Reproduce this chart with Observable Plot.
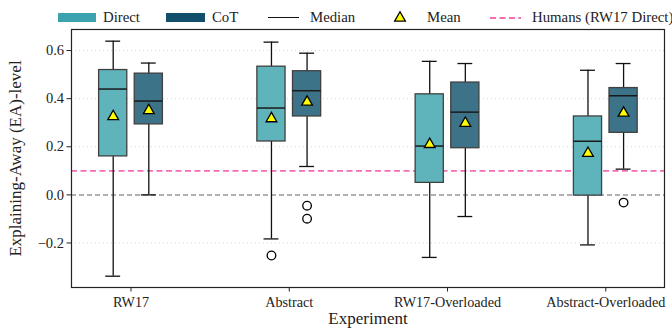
<!DOCTYPE html>
<html><head><meta charset="utf-8">
<script src="https://cdn.jsdelivr.net/npm/d3@7"></script>
<script src="https://cdn.jsdelivr.net/npm/@observablehq/plot@0.6"></script>
<style>
body{margin:0;background:#fff;}
#wrap{position:relative;width:672px;height:331px;font-family:"Liberation Serif","DejaVu Serif",serif;}
#legend{position:absolute;left:0;top:0;width:672px;height:30px;font-size:14.8px;color:#222;}
#legend .it{position:absolute;top:9px;line-height:17px;white-space:nowrap;}
#legend .sw{position:absolute;}
</style></head>
<body><div id="wrap"><div id="legend"></div></div>
<script>
const experiments = ["RW17", "Abstract", "RW17-Overloaded", "Abstract-Overloaded"];
const conditions = ["Direct", "CoT"];
const colors = {Direct: "#5fb4bc", CoT: "#3d7389"};
const legendColors = {Direct: "#3ba3ae", CoT: "#114f6c"};

const directHigh = [0.639, 0.635, 0.555, 0.518];
const directQ3   = [0.519, 0.533, 0.418, 0.326];
const directMed  = [0.440, 0.361, 0.203, 0.223];
const directQ1   = [0.160, 0.222, 0.050, -0.003];
const directLow  = [-0.338, -0.183, -0.260, -0.208];
const directMean = [0.326, 0.317, 0.210, 0.173];

const cotHigh = [0.548, 0.589, 0.546, 0.546];
const cotQ3   = [0.504, 0.514, 0.467, 0.444];
const cotMed  = [0.390, 0.433, 0.344, 0.412];
const cotQ1   = [0.293, 0.326, 0.194, 0.258];
const cotLow  = [0.000, 0.118, -0.090, 0.107];
const cotMean = [0.351, 0.386, 0.298, 0.340];

const outlierExp  = ["Abstract", "Abstract", "Abstract", "Abstract-Overloaded"];
const outlierCond = ["Direct", "CoT", "CoT", "CoT"];
const outlierVal  = [-0.252, -0.045, -0.099, -0.032];

const humanLevel = 0.1;
const yTicks = [-0.2, 0.0, 0.2, 0.4, 0.6];

// layout (data units of group index)
const offset = {Direct: -0.1125, CoT: 0.1125};
const halfBox = 0.089, halfCap = 0.047;

const stats = [];
experiments.forEach((e, i) => {
  stats.push({e, i, c: "Direct", lo: directLow[i], q1: directQ1[i], med: directMed[i], q3: directQ3[i], hi: directHigh[i], mean: directMean[i]});
  stats.push({e, i, c: "CoT", lo: cotLow[i], q1: cotQ1[i], med: cotMed[i], q3: cotQ3[i], hi: cotHigh[i], mean: cotMean[i]});
});
stats.forEach(d => { d.x = d.i + offset[d.c]; });
const outliers = outlierVal.map((v, k) => ({v, x: experiments.indexOf(outlierExp[k]) + offset[outlierCond[k]]}));

const chart = Plot.plot({
  width: 672, height: 331,
  marginLeft: 71, marginRight: 8, marginTop: 29, marginBottom: 44,
  style: {fontFamily: "Liberation Serif, DejaVu Serif, serif", fontSize: "14px", color: "#222", background: "#fff"},
  x: {type: "linear", domain: [-0.376, 3.371], axis: null},
  y: {domain: [-0.385, 0.6875], axis: null},
  marks: [
    Plot.ruleY(yTicks, {stroke: "#d8d8d8", strokeDasharray: "1,3", strokeWidth: 1}),
    Plot.ruleY([0], {stroke: "#999", strokeDasharray: "5,3", strokeWidth: 1.5}),
    Plot.ruleY([humanLevel], {stroke: "#f46db4", strokeDasharray: "6,3.5", strokeWidth: 1.7}),
    Plot.ruleX(stats, {x: "x", y1: "lo", y2: "hi", stroke: "#111", strokeWidth: 1.3}),
    Plot.ruleY(stats, {y: "lo", x1: d => d.x - halfCap, x2: d => d.x + halfCap, stroke: "#111", strokeWidth: 1.3}),
    Plot.ruleY(stats, {y: "hi", x1: d => d.x - halfCap, x2: d => d.x + halfCap, stroke: "#111", strokeWidth: 1.3}),
    Plot.rect(stats, {x1: d => d.x - halfBox, x2: d => d.x + halfBox, y1: "q1", y2: "q3", fill: d => colors[d.c], stroke: "#404040", strokeWidth: 1.3}),
    Plot.ruleY(stats, {y: "med", x1: d => d.x - halfBox, x2: d => d.x + halfBox, stroke: "#1a1a1a", strokeWidth: 1.5}),
    Plot.dot(stats, {x: "x", y: "mean", symbol: "triangle", r: 4, fill: "#ffff00", stroke: "#000", strokeWidth: 1.3}),
    Plot.dot(outliers, {x: "x", y: "v", r: 4.3, fill: "#fff", stroke: "#000", strokeWidth: 1.3}),
    Plot.frame({stroke: "#222", strokeWidth: 1.2}),
    Plot.axisY({ticks: yTicks, tickFormat: d3.format(".1f"), tickSize: 4.5, tickPadding: 3, fontSize: 14.5, label: null}),
    Plot.axisX({ticks: [0, 1, 2, 3], tickFormat: i => experiments[i], tickSize: 4.5, tickPadding: 5, fontSize: 14.2, label: null}),
    Plot.text(["Explaining-Away (EA)-level"], {frameAnchor: "left", dx: -56, rotate: -90, textAnchor: "middle", fontSize: 17, fill: "#222"}),
    Plot.text(["Experiment"], {frameAnchor: "bottom", dy: 36, fontSize: 17, fill: "#222"})
  ]
});
document.getElementById("wrap").appendChild(chart);

// legend
const lg = document.getElementById("legend");
function add(html, left, style) {
  const el = document.createElement("div");
  el.className = style ? "sw" : "it";
  el.style.left = left + "px";
  if (style) Object.assign(el.style, style);
  if (html) el.textContent = html;
  lg.appendChild(el);
}
add(null, 58, {top: "13px", width: "38px", height: "9px", background: legendColors.Direct});
add("Direct", 103);
add(null, 166, {top: "13px", width: "39px", height: "9px", background: legendColors.CoT});
add("CoT", 212);
add(null, 268, {top: "17px", width: "31px", height: "0", borderTop: "1.5px solid #111"});
add("Median", 310);
const tri = document.createElementNS("http://www.w3.org/2000/svg", "svg");
tri.setAttribute("width", "14"); tri.setAttribute("height", "14");
tri.style.cssText = "position:absolute;left:393px;top:10px;";
tri.innerHTML = '<path d="' + d3.symbol(d3.symbolTriangle, 50)() + '" transform="translate(7,8)" fill="#ffff00" stroke="#000" stroke-width="1.3"/>';
lg.appendChild(tri);
add("Mean", 427);
const dash = document.createElementNS("http://www.w3.org/2000/svg", "svg");
dash.setAttribute("width", "32"); dash.setAttribute("height", "6");
dash.style.cssText = "position:absolute;left:490px;top:15px;";
dash.innerHTML = '<line x1="0" x2="31" y1="3" y2="3" stroke="#f46db4" stroke-width="1.8" stroke-dasharray="6,3.5"/>';
lg.appendChild(dash);
add("Humans (RW17 Direct)", 532);
</script>
</body></html>
